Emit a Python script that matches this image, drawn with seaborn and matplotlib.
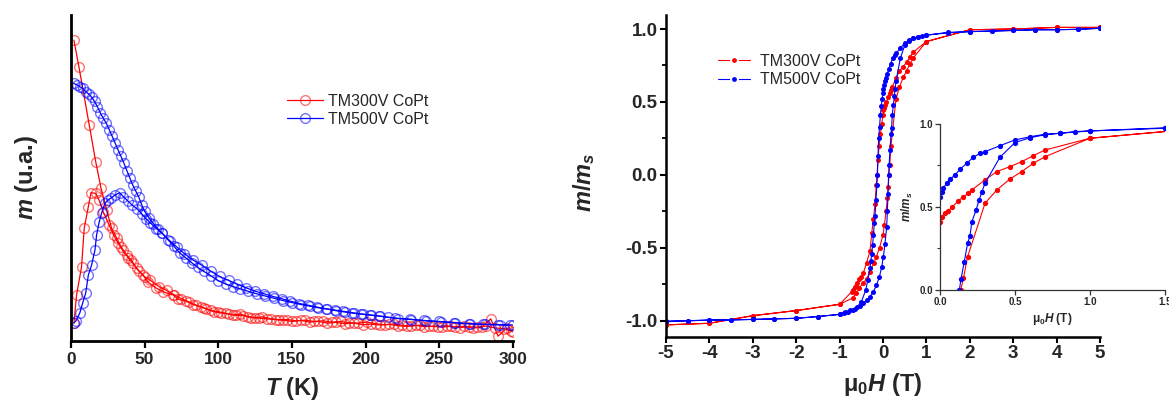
import matplotlib
matplotlib.use("Agg")
import matplotlib.pyplot as plt
import matplotlib.colors as mcolors
from matplotlib.ticker import MultipleLocator, FormatStrFormatter
import seaborn as sns

# ---- m(T): ZFC / FC curves (arbitrary units) ----
t_red_fc = [2, 5.4, 12.4, 16.8, 20.4, 24.2, 27.6, 31, 34, 37.8, 41, 44.6, 49, 52.5, 58, 62.7, 69.4, 72.8,
            78, 83, 88, 92, 97, 102, 107, 112, 117, 122, 128, 133, 139, 144, 150, 156, 162, 168, 174, 180,
            186, 192, 198, 204, 210, 216, 222, 228, 234, 240, 246, 252, 258, 264, 270, 276, 282, 288, 294, 299]
m_red_fc = [0.923, 0.841, 0.663, 0.55, 0.469, 0.402, 0.346, 0.316, 0.289, 0.264, 0.248, 0.223, 0.202, 0.18,
            0.162, 0.151, 0.141, 0.128, 0.122, 0.112, 0.105, 0.098, 0.09, 0.086, 0.083, 0.079, 0.078, 0.072,
            0.07, 0.068, 0.066, 0.064, 0.06, 0.063, 0.058, 0.06, 0.055, 0.057, 0.053, 0.055, 0.05, 0.052,
            0.049, 0.051, 0.047, 0.045, 0.048, 0.044, 0.046, 0.043, 0.045, 0.041, 0.044, 0.042, 0.046, 0.04,
            0.038, 0.03]

t_red_zfc = [2, 3.8, 7.2, 9, 11.8, 13.6, 16.8, 19, 22, 26, 29, 32, 35, 39, 42, 46, 50, 54, 60, 65, 70, 75,
             80, 85, 90, 95, 100, 105, 110, 115, 120, 125, 130, 136, 141, 147, 153, 159, 165, 171, 177, 183,
             189, 195, 201, 207, 213, 219, 225, 231, 237, 243, 249, 255, 261, 267, 273, 279, 285, 290, 296, 300]
m_red_zfc = [0.055, 0.141, 0.228, 0.346, 0.412, 0.455, 0.453, 0.433, 0.395, 0.355, 0.325, 0.3, 0.278, 0.255,
             0.238, 0.215, 0.197, 0.186, 0.166, 0.155, 0.142, 0.13, 0.12, 0.11, 0.102, 0.094, 0.09, 0.085,
             0.08, 0.083, 0.075, 0.072, 0.074, 0.068, 0.065, 0.066, 0.062, 0.064, 0.06, 0.062, 0.058, 0.06,
             0.056, 0.055, 0.058, 0.053, 0.05, 0.052, 0.048, 0.046, 0.049, 0.045, 0.044, 0.047, 0.043, 0.045,
             0.04, 0.042, 0.068, 0.015, 0.04, 0.028]

t_blue_fc = [2, 4, 6, 8, 10, 12, 14, 16, 18, 20, 22, 24, 26, 28, 30, 32, 34, 36, 38, 40, 42, 44, 46, 48, 50,
             53, 56, 59, 62, 66, 70, 74, 78, 82, 86, 90, 95, 100, 105, 110, 115, 120, 126, 132, 138, 144, 150,
             156, 162, 168, 174, 180, 186, 192, 198, 204, 210, 220, 230, 240, 250, 260, 270, 280, 290, 298]
m_blue_fc = [0.79, 0.786, 0.78, 0.775, 0.765, 0.758, 0.748, 0.735, 0.718, 0.699, 0.683, 0.668, 0.648, 0.628,
             0.607, 0.586, 0.566, 0.545, 0.522, 0.5, 0.478, 0.46, 0.442, 0.418, 0.398, 0.378, 0.36, 0.345,
             0.33, 0.31, 0.29, 0.27, 0.255, 0.24, 0.226, 0.214, 0.2, 0.185, 0.175, 0.167, 0.16, 0.153, 0.145,
             0.138, 0.131, 0.124, 0.118, 0.112, 0.107, 0.102, 0.098, 0.093, 0.089, 0.085, 0.082, 0.079, 0.076,
             0.07, 0.067, 0.063, 0.06, 0.056, 0.053, 0.051, 0.05, 0.048]

t_blue_zfc = [2, 3.4, 6, 7.9, 10, 11.8, 14, 16.3, 17.4, 19.2, 20.8, 23, 25.3, 27, 30, 33, 35.5, 38.5, 41.6,
              45, 48, 51, 54, 58, 62, 67, 72, 77, 83, 89, 95, 101, 107, 113, 119, 125, 131, 137, 143, 149,
              155, 161, 167, 173, 179, 185, 191, 197, 203, 209, 215, 222, 231, 241, 251, 261, 271, 281, 291, 300]
m_blue_zfc = [0.055, 0.062, 0.086, 0.116, 0.147, 0.202, 0.233, 0.279, 0.325, 0.366, 0.392, 0.422, 0.433,
              0.438, 0.448, 0.455, 0.443, 0.43, 0.417, 0.405, 0.39, 0.375, 0.362, 0.345, 0.33, 0.308, 0.288,
              0.268, 0.248, 0.232, 0.214, 0.198, 0.186, 0.174, 0.163, 0.153, 0.145, 0.137, 0.13, 0.122, 0.115,
              0.11, 0.104, 0.099, 0.095, 0.091, 0.087, 0.083, 0.08, 0.077, 0.073, 0.069, 0.066, 0.062, 0.059,
              0.056, 0.053, 0.051, 0.05, 0.049]

# ---- hysteresis loops m/ms vs mu0H (T) ----
h_red_down = [5, 4, 3, 2, 1.0, 0.7, 0.622, 0.544, 0.467, 0.378, 0.3, 0.211, 0.189, 0.156, 0.122, 0.078,
              0.056, 0.033, 0.011, 0, -0.03, -0.06, -0.09, -0.115, -0.138, -0.156, -0.184, -0.22, -0.26,
              -0.3, -0.378, -0.45, -0.5, -0.544, -0.6, -0.622, -0.65, -0.7, -0.72, -1.0, -2, -3, -4, -5]
m_red_down = [1.011, 1.011, 1.0, 0.995, 0.914, 0.843, 0.809, 0.773, 0.743, 0.713, 0.663, 0.602, 0.582,
              0.562, 0.536, 0.498, 0.476, 0.462, 0.442, 0.41, 0.35, 0.28, 0.2, 0.1, 0.0, -0.07, -0.2, -0.3,
              -0.4, -0.522, -0.602, -0.669, -0.7, -0.713, -0.74, -0.763, -0.77, -0.79, -0.8, -0.886, -0.929,
              -0.964, -1.016, -1.027]
h_red_up = [-5, -4, -3, -2, -1.0, -0.7, -0.622, -0.544, -0.467, -0.378, -0.3, -0.211, -0.156, -0.078, 0,
            0.033, 0.07, 0.1, 0.12, 0.138, 0.156, 0.184, 0.3, 0.378, 0.467, 0.544, 0.622, 0.7, 1.0, 2, 3, 4, 5]
m_red_up = [-1.027, -1.016, -0.964, -0.929, -0.886, -0.843, -0.809, -0.773, -0.743, -0.713, -0.663, -0.602,
            -0.562, -0.498, -0.41, -0.34, -0.25, -0.16, -0.08, 0.0, 0.07, 0.2, 0.522, 0.602, 0.669, 0.713,
            0.763, 0.803, 0.914, 0.995, 1.0, 1.011, 1.011]

h_blue_down = [5, 4.5, 4, 3.5, 3, 2.5, 2, 1.5, 1.0, 0.9, 0.8, 0.7, 0.6, 0.5, 0.4, 0.3, 0.267, 0.222, 0.178,
               0.133, 0.1, 0.067, 0.044, 0.022, 0.011, 0, -0.02, -0.04, -0.06, -0.08, -0.1, -0.115, -0.129,
               -0.14, -0.162, -0.184, -0.2, -0.22, -0.24, -0.26, -0.28, -0.3, -0.35, -0.4, -0.5, -0.6, -0.7,
               -0.8, -0.9, -1.0, -1.5, -2, -2.5, -3, -3.5, -4, -4.5, -5]
m_blue_down = [1.005, 0.998, 0.995, 0.995, 0.99, 0.986, 0.982, 0.974, 0.958, 0.954, 0.944, 0.938, 0.923,
               0.904, 0.869, 0.833, 0.823, 0.799, 0.763, 0.727, 0.693, 0.667, 0.643, 0.613, 0.592, 0.562,
               0.52, 0.47, 0.41, 0.33, 0.25, 0.13, 0.0, -0.066, -0.171, -0.281, -0.33, -0.41, -0.48, -0.54,
               -0.59, -0.64, -0.72, -0.79, -0.87, -0.905, -0.925, -0.94, -0.948, -0.955, -0.97, -0.982,
               -0.986, -0.99, -0.993, -0.995, -0.998, -1.0]
h_blue_up = [-5, -4.5, -4, -3.5, -3, -2.5, -2, -1.5, -1.0, -0.88, -0.76, -0.65, -0.53, -0.45, -0.38, -0.3,
             -0.22, -0.15, -0.085, -0.03, 0.008, 0.046, 0.085, 0.1, 0.115, 0.129, 0.14, 0.162, 0.184, 0.2,
             0.212, 0.24, 0.26, 0.28, 0.3, 0.4, 0.5, 0.6, 0.7, 0.8, 1.0, 1.5, 2, 2.5, 3, 3.5, 4, 4.5, 5]
m_blue_up = [-1.005, -1.0, -0.993, -0.993, -0.989, -0.986, -0.982, -0.97, -0.955, -0.94, -0.928, -0.915,
             -0.9, -0.88, -0.856, -0.833, -0.8, -0.755, -0.7, -0.63, -0.56, -0.47, -0.354, -0.25, -0.13, 0.0,
             0.066, 0.171, 0.281, 0.325, 0.41, 0.48, 0.54, 0.592, 0.643, 0.8, 0.888, 0.917, 0.935, 0.944,
             0.958, 0.977, 0.982, 0.986, 0.99, 0.995, 0.995, 0.998, 1.005]

RED = "#ff0000"
BLUE = "#0000ff"

sns.set_theme(style="ticks")
plt.rcParams["font.family"] = ["Liberation Sans", "DejaVu Sans"]
plt.rcParams["mathtext.fontset"] = "custom"
plt.rcParams["mathtext.it"] = "Liberation Sans:italic:bold"
plt.rcParams["mathtext.rm"] = "Liberation Sans:bold"
plt.rcParams["mathtext.bf"] = "Liberation Sans:bold"
plt.rcParams["axes.unicode_minus"] = False

fig = plt.figure(figsize=(11.69, 4.03), dpi=100)
ax1 = fig.add_axes([0.0607, 0.1538, 0.378, 0.809])
ax2 = fig.add_axes([0.5697, 0.1638, 0.3713, 0.799])
ax3 = fig.add_axes([0.8041, 0.2804, 0.1925, 0.412])


def mt_curve(ax, t, m, color, label=None):
    sns.lineplot(x=t, y=m, ax=ax, color=color, linewidth=0.9, marker="o", markersize=7,
                 markerfacecolor="none", markeredgecolor=mcolors.to_rgba(color, 0.55),
                 markeredgewidth=1.0, estimator=None, sort=False, label=label)


def loop(ax, h, m, color, label=None, ms=3.6):
    sns.lineplot(x=h, y=m, ax=ax, color=color, linewidth=0.8, marker="o", markersize=ms,
                 markerfacecolor=color, markeredgecolor=color, markeredgewidth=0,
                 estimator=None, sort=False, label=label)


# left: m(T)
mt_curve(ax1, t_red_fc, m_red_fc, RED, "TM300V CoPt")
mt_curve(ax1, t_red_zfc, m_red_zfc, RED)
mt_curve(ax1, t_blue_fc, m_blue_fc, BLUE, "TM500V CoPt")
mt_curve(ax1, t_blue_zfc, m_blue_zfc, BLUE)

ax1.set_xlim(0, 300)
ax1.set_ylim(0, 1)
ax1.set_xticks(range(0, 301, 50))
ax1.set_yticks([])
sns.despine(ax=ax1)
for s in ["left", "bottom"]:
    ax1.spines[s].set_linewidth(2.0)
    ax1.spines[s].set_color("black")
ax1.tick_params(axis="x", direction="out", length=5, width=1.6, labelsize=12.5, pad=3, color="black")
for lab in ax1.get_xticklabels():
    lab.set_fontweight("bold")
ax1.set_xlabel("$T$ (K)", fontsize=17, fontweight="bold")
ax1.set_ylabel("$m$ (u.a.)", fontsize=17, fontweight="bold")
ax1.xaxis.set_label_coords(0.5, -0.105)
ax1.yaxis.set_label_coords(-0.07, 0.5)
leg1 = ax1.legend(loc="upper left", bbox_to_anchor=(0.489, 0.758), frameon=False, fontsize=11.5,
                  borderpad=0, borderaxespad=0, handlelength=2.25, handletextpad=0.3, labelspacing=0.2)

# right: hysteresis
h_red = h_red_down + h_red_up
m_red = m_red_down + m_red_up
h_blue = h_blue_down + h_blue_up
m_blue = m_blue_down + m_blue_up
loop(ax2, h_red, m_red, RED, "TM300V CoPt")
loop(ax2, h_blue, m_blue, BLUE, "TM500V CoPt")

ax2.set_xlim(-5, 5)
ax2.set_ylim(-1.11, 1.096)
ax2.set_xticks(range(-5, 6))
ax2.set_yticks([-1.0, -0.5, 0.0, 0.5, 1.0])
ax2.yaxis.set_minor_locator(MultipleLocator(0.25))
ax2.yaxis.set_major_formatter(FormatStrFormatter("%.1f"))
sns.despine(ax=ax2)
for s in ["left", "bottom"]:
    ax2.spines[s].set_linewidth(1.8)
    ax2.spines[s].set_color("black")
ax2.tick_params(axis="both", which="major", direction="out", length=4.5, width=1.5, labelsize=13.5,
                pad=1.5, color="black")
ax2.tick_params(axis="y", which="minor", direction="out", length=3, width=1.3, color="black")
for lab in ax2.get_xticklabels() + ax2.get_yticklabels():
    lab.set_fontweight("bold")
ax2.set_xlabel("μ$_0$$H$ (T)", fontsize=17, fontweight="bold")
ax2.set_ylabel("$m/m_s$", fontsize=17, fontweight="bold")
ax2.xaxis.set_label_coords(0.5, -0.105)
ax2.yaxis.set_label_coords(-0.16, 0.48)
leg2 = ax2.legend(loc="upper left", bbox_to_anchor=(0.12, 0.879), frameon=False, fontsize=11.5,
                  borderpad=0, borderaxespad=0, handlelength=2.0, handletextpad=0.6, labelspacing=0.2)
for ln in leg2.get_lines():
    ln.set_markeredgecolor("white")
    ln.set_markeredgewidth(1.5)
    ln.set_markersize(5)

# inset zoom of the first quadrant
loop(ax3, h_red, m_red, RED, ms=3.8)
loop(ax3, h_blue, m_blue, BLUE, ms=3.8)
ax3.set_xlim(0, 1.5)
ax3.set_ylim(0, 1.0)
ax3.set_xticks([0, 0.5, 1.0, 1.5])
ax3.set_yticks([0, 0.5, 1.0])
ax3.yaxis.set_minor_locator(MultipleLocator(0.25))
ax3.xaxis.set_major_formatter(FormatStrFormatter("%.1f"))
ax3.yaxis.set_major_formatter(FormatStrFormatter("%.1f"))
ax3.patch.set_alpha(0)
sns.despine(ax=ax3)
for s in ["left", "bottom"]:
    ax3.spines[s].set_linewidth(0.9)
    ax3.spines[s].set_color("#333333")
ax3.tick_params(axis="both", which="major", direction="out", length=3.5, width=0.9, labelsize=7,
                pad=1.5, color="#333333")
ax3.tick_params(axis="y", which="minor", direction="out", length=2, width=0.8, color="#333333")
for lab in ax3.get_xticklabels() + ax3.get_yticklabels():
    lab.set_fontweight("bold")
ax3.set_xlabel("μ$_0$$H$ (T)", fontsize=8.5, fontweight="bold", labelpad=3)
ax3.set_ylabel("$m/m_s$", fontsize=8.5, fontweight="bold", labelpad=3)
if ax3.get_legend() is not None:
    ax3.get_legend().remove()

fig.savefig("out.png", dpi=100)
